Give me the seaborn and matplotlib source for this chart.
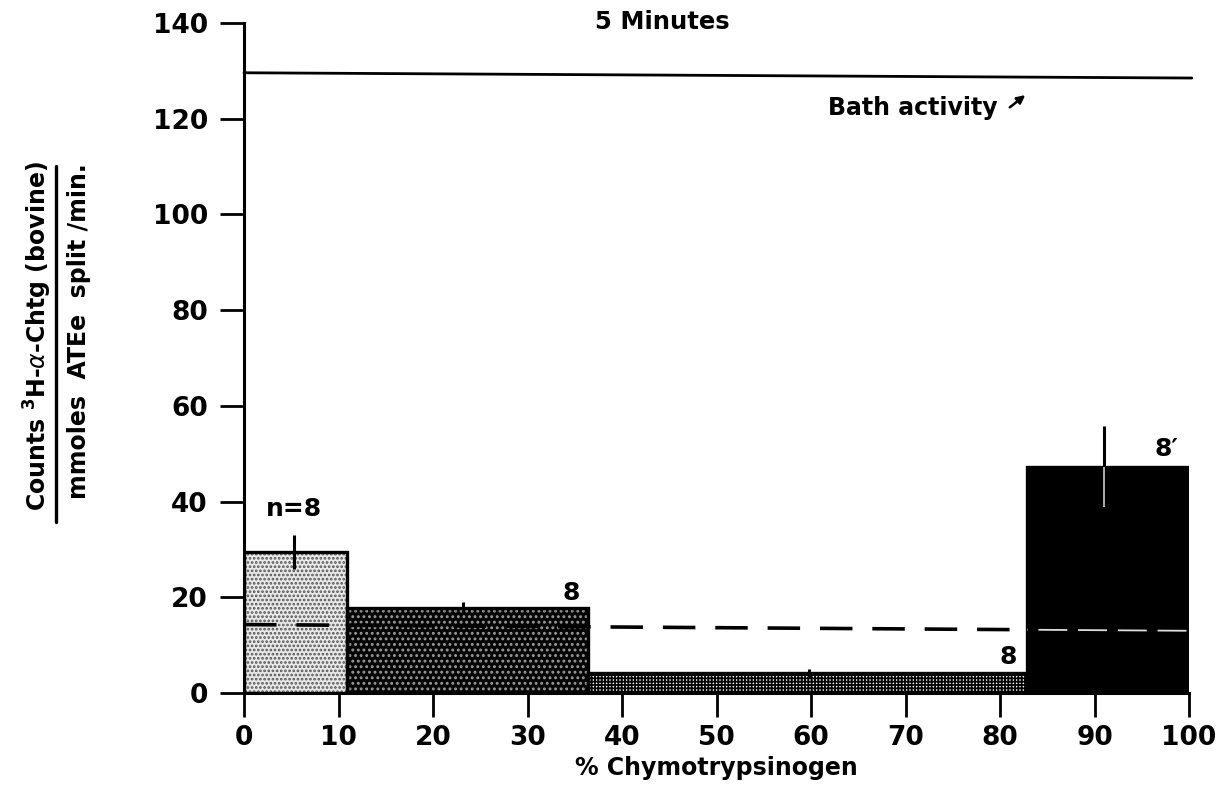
import matplotlib
matplotlib.use("Agg")
import matplotlib.pyplot as plt
import seaborn as sns
import numpy as np
from matplotlib.patches import Rectangle

# ---- data ----
bin_edges = [0, 10.9, 36.4, 82.9, 100]          # % chymotrypsinogen bins
bar_means = [29.5, 17.8, 4.1, 47.3]             # counts / nmoles ATEe split/min
bar_err = [3.5, 1.2, 1.0, 8.5]
err_x = [5.3, 23.2, 59.8, 91.0]
n_labels = ["n=8", "8", "8", "8\u2032"]
n_label_x = [5.3, 34.6, 80.9, 97.6]
n_label_y = [38.5, 21.0, 7.5, 51.0]
bath_x = [0, 100.3]
bath_y = [129.6, 128.5]
ctrl_x = [0, 100]
ctrl_y = [14.3, 13.0]
x_ticks = list(range(0, 101, 10))
y_ticks = list(range(0, 141, 20))

sns.set_style("ticks")
plt.rcParams["font.family"] = ["DejaVu Sans"]
plt.rcParams["hatch.linewidth"] = 1.3
for k in ["text.color", "axes.labelcolor", "xtick.color", "ytick.color",
          "axes.edgecolor"]:
    plt.rcParams[k] = "black"

fig = plt.figure(figsize=(12.31, 7.97), dpi=100)
ax = fig.add_axes([244 / 1231, 1 - 693 / 797, (1189 - 244) / 1231, (693 - 23) / 797])

mids = [(bin_edges[i] + bin_edges[i + 1]) / 2 for i in range(len(bar_means))]
sns.histplot(x=mids, weights=bar_means, bins=bin_edges, stat="count",
             ax=ax, linewidth=0, alpha=1, color="black")

styles = [
    dict(fc="#e8e8e8", hatch="....", hc="#555555"),
    dict(fc="#050505", hatch="...", hc="#9a9a9a"),
    dict(fc="#ffffff", hatch="+++++", hc="#000000"),
    dict(fc="#000000", hatch=None, hc="#000000"),
]
patches = list(ax.patches)
for p, st in zip(patches, styles):
    p.set_facecolor(st["fc"])
    p.set_edgecolor(st["hc"])
    p.set_linewidth(0)
    if st["hatch"]:
        p.set_hatch(st["hatch"])
    ax.add_patch(Rectangle(p.get_xy(), p.get_width(), p.get_height(),
                           fill=False, ec="black", lw=2.4, zorder=3))

# control (dashed) line
sns.lineplot(x=ctrl_x, y=ctrl_y, ax=ax, color="black", lw=2.6, zorder=4)
ax.lines[-1].set_dashes([9.0, 5.5])
# bath activity line
sns.lineplot(x=bath_x, y=bath_y, ax=ax, color="black", lw=2.0, zorder=4)
ax.lines[-1].set_clip_on(False)

# error bars
ax.errorbar(err_x, bar_means, yerr=bar_err, fmt="none", ecolor="black",
            elinewidth=2.2, capsize=0, zorder=5)

# white overlays inside the black bar
black_bar = patches[3]
wl, = ax.plot(ctrl_x, ctrl_y, color="#dddddd", lw=1.3, zorder=6)
wl.set_dashes([16, 6])
wl.set_clip_path(black_bar)
eb = ax.errorbar(err_x, bar_means, yerr=bar_err, fmt="none", ecolor="#cccccc",
                 elinewidth=1.2, capsize=0, zorder=6)
for c in eb.lines[2]:
    c.set_clip_path(black_bar)

# annotations
for lab, lx, ly in zip(n_labels, n_label_x, n_label_y):
    ax.text(lx, ly, lab, ha="center", va="center", fontsize=18,
            fontweight="bold", zorder=7)
ax.text(44.3, 140.2, "5 Minutes", ha="center", va="center", fontsize=17.5,
        fontweight="bold", clip_on=False)
ax.text(61.8, 122.3, "Bath activity", ha="left", va="center", fontsize=17,
        fontweight="bold")
ax.annotate("", xy=(82.9, 125.3), xytext=(80.8, 122.0),
            arrowprops=dict(arrowstyle="-|>", color="black", lw=1.8,
                            mutation_scale=12))

ax.set_xlim(0, 100)
ax.set_ylim(0, 140)
ax.set_xticks(x_ticks)
ax.set_yticks(y_ticks)
ax.set_xticklabels([str(t) for t in x_ticks], fontsize=19, fontweight="bold")
ax.set_yticklabels([str(t) for t in y_ticks], fontsize=19, fontweight="bold")
ax.tick_params(axis="both", direction="out", length=17, width=2.0, pad=6,
               colors="black")
ax.tick_params(axis="y", pad=9)
sns.despine(ax=ax)
for s in ["left", "bottom"]:
    ax.spines[s].set_linewidth(2.2)
    ax.spines[s].set_color("black")
ax.set_ylabel("")
ax.set_xlabel("% Chymotrypsinogen", fontsize=17, fontweight="bold", labelpad=4)

# two-line fractional y label
fig.text(38 / 1231, 1 - 336 / 797,
         r"Counts $^{\mathbf{3}}$H-$\alpha$-Chtg (bovine)",
         rotation=90, ha="center", va="center", fontsize=17, fontweight="bold")
fig.text(79 / 1231, 1 - 331 / 797, "mmoles  ATEe  split /min.",
         rotation=90, ha="center", va="center", fontsize=17, fontweight="bold")
fig.add_artist(plt.Line2D([56 / 1231, 56 / 1231], [1 - 166 / 797, 1 - 522 / 797],
                          color="black", lw=2.4, transform=fig.transFigure))

fig.savefig("out.png", dpi=100)
